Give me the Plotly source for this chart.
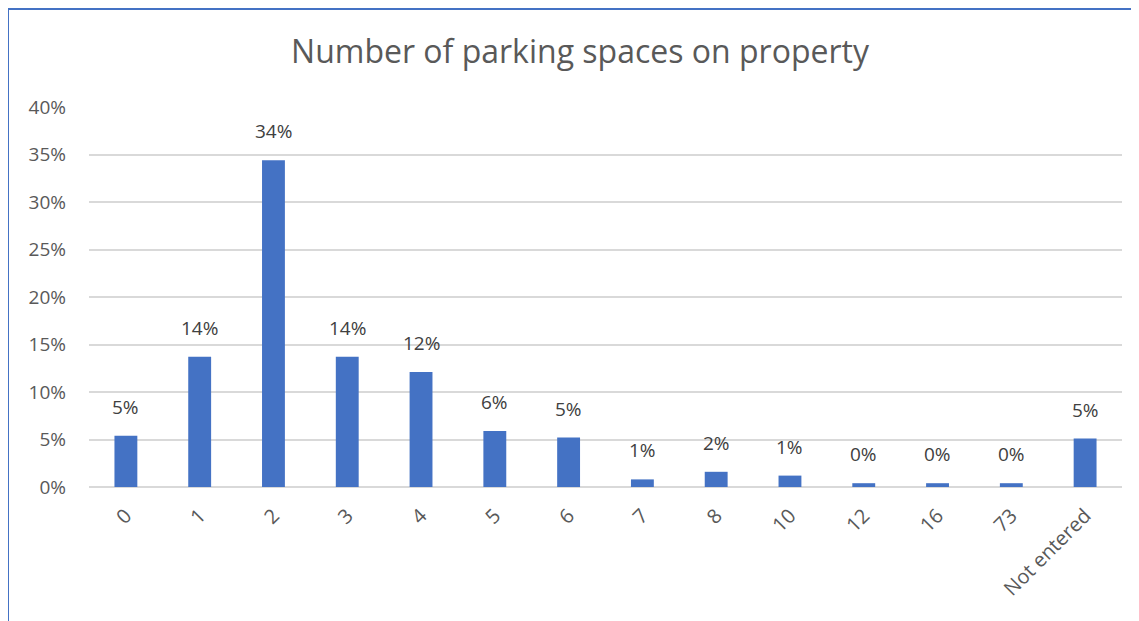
import plotly.graph_objects as go

# Share of properties by number of parking spaces
categories = ["0", "1", "2", "3", "4", "5", "6", "7", "8", "10", "12", "16", "73", "Not entered"]
shares = [0.054, 0.137, 0.344, 0.137, 0.121, 0.059, 0.052, 0.008, 0.016, 0.012, 0.004, 0.004, 0.004, 0.051]
y_ticks = [0, 0.05, 0.10, 0.15, 0.20, 0.25, 0.30, 0.35, 0.40]

W, H = 1139, 621
# the page body adds an 8px offset, so layout pixels are screen pixels minus 8
off = 8
left, right, top, bottom = 89 - off, W - (1122 - off), 107 - off, H - (487 - off)
pw = W - left - right
ph = H - top - bottom

font = "Open Sans, Liberation Sans, sans-serif"
grey = "#595959"
blue = "#4472C4"

fig = go.Figure(layout=go.Layout(width=W, height=H))

fig.add_trace(
    go.Bar(
        x=categories,
        y=shares,
        marker={"color": blue, "line": {"width": 0}},
        width=0.31,
        showlegend=False,
        hovertemplate="%{x}: %{y:.0%}<extra></extra>",
    )
)

# Data labels sit a little above each bar, as in Excel
# (category index used as x, since numeric category names would be read as positions)
for i, val in enumerate(shares):
    fig.add_annotation(
        x=i, y=val, text=f"{val:.0%}", showarrow=False,
        yanchor="bottom", yshift=14,
        font={"size": 19, "color": "#404040", "family": font},
    )

fig.update_xaxes(
    type="category",
    range=[-0.5, len(categories) - 0.5],
    tickangle=-45,
    tickfont={"size": 20, "color": grey, "family": font},
    showgrid=False,
    showline=False,
    ticks="",
    ticklabelstandoff=12,
)
fig.update_yaxes(
    range=[0, 0.40],
    tickvals=y_ticks,
    tickformat=".0%",
    tickfont={"size": 19, "color": grey, "family": font},
    showgrid=True,
    gridcolor="#d9d9d9",
    gridwidth=1.5,
    zeroline=True,
    zerolinecolor="#d9d9d9",
    zerolinewidth=1.5,
    ticks="",
    ticklabelstandoff=22,
)

# Frame lines (top and left) of the chart box
px_to_x = lambda px: (px - off - left) / pw
py_to_y = lambda py: (H - bottom - (py - off)) / ph
fig.update_layout(
    shapes=[
        {"type": "line", "xref": "paper", "yref": "paper",
         "x0": px_to_x(8), "x1": px_to_x(1160), "y0": py_to_y(9), "y1": py_to_y(9),
         "line": {"color": blue, "width": 2}},
        {"type": "line", "xref": "paper", "yref": "paper",
         "x0": px_to_x(8), "x1": px_to_x(8), "y0": py_to_y(9), "y1": py_to_y(640),
         "line": {"color": blue, "width": 2}},
    ],
    title={
        "text": "Number of parking spaces on property",
        "x": (580 - off) / W, "xanchor": "center", "y": 1 - (52 - off) / H, "yanchor": "middle",
        "font": {"size": 32, "color": grey, "family": font},
    },
    margin={"l": left, "r": right, "t": top, "b": bottom},
    plot_bgcolor="white",
    paper_bgcolor="white",
)

fig.write_html("out.html")
